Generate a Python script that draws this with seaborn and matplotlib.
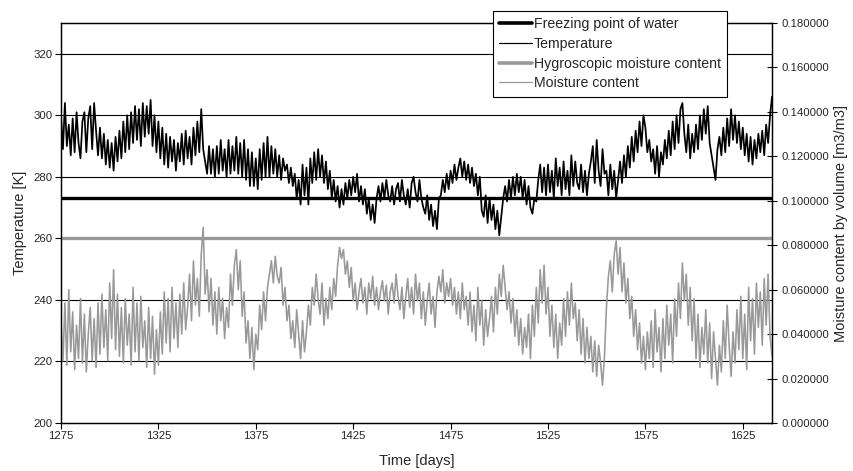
import numpy as np
import pandas as pd
import matplotlib
matplotlib.use('Agg')
import matplotlib.pyplot as plt
from matplotlib.ticker import FormatStrFormatter
import seaborn as sns

# temperatura diaria [K], dia 1275 em diante
temperature = [
    300, 289, 304, 290, 297, 287, 299, 288, 301, 291,
    286, 298, 301, 288, 299, 303, 289, 304, 295, 287,
    296, 286, 294, 284, 292, 283, 291, 282, 293, 285,
    295, 286, 298, 288, 300, 289, 301, 291, 303, 292,
    302, 290, 304, 293, 303, 294, 305, 290, 300, 288,
    298, 286, 296, 284, 294, 283, 293, 285, 292, 282,
    291, 285, 294, 284, 295, 286, 293, 284, 296, 287,
    298, 288, 302, 289, 285, 281, 290, 281, 289, 280,
    290, 281, 292, 282, 289, 280, 292, 281, 290, 282,
    293, 281, 291, 280, 292, 279, 289, 277, 288, 277,
    286, 276, 289, 279, 291, 280, 293, 280, 290, 281,
    289, 280, 287, 279, 286, 282, 284, 278, 283, 277,
    281, 273, 279, 271, 284, 274, 283, 271, 286, 278,
    288, 279, 289, 280, 287, 278, 285, 276, 282, 273,
    279, 272, 277, 270, 276, 271, 278, 273, 279, 274,
    280, 275, 281, 272, 277, 271, 276, 268, 273, 266,
    271, 265, 273, 277, 272, 278, 273, 279, 274, 272,
    277, 271, 276, 278, 272, 279, 274, 271, 276, 270,
    278, 280, 275, 272, 279, 273, 270, 268, 274, 266,
    271, 264, 269, 263, 273, 274, 279, 275, 281, 276,
    282, 278, 284, 279, 283, 286, 280, 285, 279, 284,
    278, 283, 277, 281, 274, 280, 269, 267, 274, 265,
    273, 266, 271, 263, 269, 261, 267, 273, 277, 272,
    279, 273, 280, 274, 281, 275, 280, 273, 279, 271,
    277, 270, 268, 273, 272, 279, 284, 275, 283, 274,
    284, 275, 282, 273, 286, 277, 283, 274, 285, 276,
    282, 274, 287, 277, 285, 278, 276, 284, 275, 282,
    274, 281, 285, 290, 278, 292, 282, 277, 289, 281,
    282, 274, 284, 276, 282, 273, 279, 285, 278, 287,
    280, 290, 283, 293, 285, 295, 288, 298, 290, 300,
    296, 288, 292, 285, 289, 281, 290, 280, 288, 284,
    292, 286, 295, 287, 298, 289, 300, 291, 302, 304,
    294, 288, 297, 286, 294, 288, 297, 289, 300, 292,
    302, 294, 303, 291, 287, 283, 279, 289, 293, 287,
    296, 288, 299, 290, 302, 292, 300, 291, 298, 289,
    296, 287, 294, 285, 293, 284, 292, 286, 294, 288,
    295, 287, 297, 291, 300, 306,
]

# umidade volumetrica [m3/m3]
moisture = [
    0.045, 0.028, 0.054, 0.026, 0.060, 0.032, 0.050, 0.024, 0.044, 0.029,
    0.056, 0.027, 0.049, 0.023, 0.040, 0.052, 0.028, 0.047, 0.025, 0.054,
    0.031, 0.058, 0.034, 0.051, 0.028, 0.063, 0.038, 0.069, 0.033, 0.058,
    0.030, 0.052, 0.027, 0.056, 0.035, 0.049, 0.026, 0.061, 0.032, 0.054,
    0.028, 0.057, 0.034, 0.046, 0.025, 0.052, 0.029, 0.048, 0.022, 0.042,
    0.026, 0.050, 0.031, 0.059, 0.036, 0.056, 0.032, 0.061, 0.038, 0.054,
    0.034, 0.058, 0.040, 0.063, 0.042, 0.052, 0.067, 0.046, 0.073, 0.053,
    0.065, 0.048, 0.076, 0.088, 0.058, 0.069, 0.050, 0.065, 0.044, 0.059,
    0.040, 0.061, 0.046, 0.056, 0.038, 0.052, 0.043, 0.067, 0.053, 0.071,
    0.078, 0.060, 0.073, 0.048, 0.059, 0.036, 0.046, 0.029, 0.043, 0.024,
    0.040, 0.033, 0.053, 0.042, 0.059, 0.046, 0.061, 0.067, 0.073, 0.063,
    0.075, 0.066, 0.063, 0.070, 0.053, 0.061, 0.046, 0.053, 0.038, 0.046,
    0.034, 0.051, 0.040, 0.029, 0.046, 0.032, 0.041, 0.053, 0.044, 0.061,
    0.053, 0.067, 0.056, 0.049, 0.063, 0.044, 0.056, 0.047, 0.061, 0.051,
    0.065, 0.057, 0.071, 0.079, 0.074, 0.078, 0.067, 0.073, 0.061, 0.070,
    0.055, 0.063, 0.051, 0.059, 0.065, 0.054, 0.061, 0.049, 0.063, 0.056,
    0.066, 0.053, 0.061, 0.051, 0.059, 0.064, 0.055, 0.062, 0.049, 0.059,
    0.063, 0.054, 0.067, 0.057, 0.051, 0.061, 0.047, 0.057, 0.065, 0.052,
    0.061, 0.049, 0.067, 0.055, 0.063, 0.047, 0.059, 0.044, 0.055, 0.063,
    0.049, 0.057, 0.043, 0.059, 0.066, 0.059, 0.069, 0.054, 0.063, 0.057,
    0.065, 0.053, 0.061, 0.049, 0.059, 0.047, 0.063, 0.051, 0.057, 0.044,
    0.059, 0.041, 0.053, 0.037, 0.061, 0.044, 0.055, 0.035, 0.051, 0.039,
    0.047, 0.057, 0.041, 0.061, 0.049, 0.067, 0.057, 0.071, 0.061, 0.051,
    0.059, 0.045, 0.056, 0.039, 0.051, 0.035, 0.047, 0.031, 0.043, 0.034,
    0.049, 0.029, 0.053, 0.039, 0.061, 0.045, 0.069, 0.054, 0.071, 0.049,
    0.061, 0.039, 0.053, 0.034, 0.049, 0.029, 0.045, 0.035, 0.056, 0.039,
    0.059, 0.044, 0.063, 0.047, 0.054, 0.037, 0.051, 0.031, 0.047, 0.027,
    0.043, 0.029, 0.039, 0.023, 0.037, 0.021, 0.035, 0.027, 0.017, 0.030,
    0.052, 0.066, 0.073, 0.059, 0.076, 0.082, 0.067, 0.079, 0.059, 0.072,
    0.054, 0.065, 0.047, 0.057, 0.039, 0.051, 0.033, 0.045, 0.027, 0.039,
    0.024, 0.041, 0.029, 0.046, 0.025, 0.051, 0.032, 0.043, 0.023, 0.047,
    0.029, 0.053, 0.035, 0.049, 0.027, 0.056, 0.039, 0.063, 0.047, 0.072,
    0.055, 0.067, 0.044, 0.061, 0.037, 0.056, 0.029, 0.049, 0.025, 0.043,
    0.031, 0.051, 0.027, 0.045, 0.020, 0.041, 0.029, 0.017, 0.035, 0.023,
    0.046, 0.029, 0.053, 0.035, 0.021, 0.041, 0.027, 0.051, 0.033, 0.057,
    0.029, 0.049, 0.024, 0.061, 0.037, 0.056, 0.031, 0.063, 0.043, 0.059,
    0.035, 0.065, 0.044, 0.067, 0.039, 0.030,
]

freezing_point = 273.15
hygroscopic = 0.0833
start_day = 1275
x_ticks = [1275, 1325, 1375, 1425, 1475, 1525, 1575, 1625]
temp_ticks = [200, 220, 240, 260, 280, 300, 320]
moist_ticks = [0.0, 0.02, 0.04, 0.06, 0.08, 0.10, 0.12, 0.14, 0.16, 0.18]

ds_t = pd.DataFrame({'day': np.arange(start_day, start_day + len(temperature)), 'temp': temperature})
ds_m = pd.DataFrame({'day': np.arange(start_day, start_day + len(moisture)), 'moist': moisture})

sns.set_style('white')
plt.rcParams['font.family'] = ['Liberation Sans', 'DejaVu Sans']

fig = plt.figure(figsize=(8.54, 4.71), dpi=100)
ax = fig.add_axes([61 / 854, 1 - 423 / 471, (772 - 61) / 854, 400 / 471])
ax2 = ax.twinx()

grey = '#999999'

# grade horizontal
for t in temp_ticks[1:]:
    ax.axhline(t, color='black', lw=0.8, zorder=0)

ax.axhline(freezing_point, color='black', lw=2.4, zorder=2)
sns.lineplot(data=ds_t, x='day', y='temp', ax=ax, color='black', lw=1.25, zorder=3)
ax2.axhline(hygroscopic, color=grey, lw=2.4)
sns.lineplot(data=ds_m, x='day', y='moist', ax=ax2, color=grey, lw=1.15)

ax.set_xlim(1275, 1640)
ax.set_ylim(200, 330)
ax2.set_ylim(0, 0.18)
ax.set_xticks(x_ticks)
ax.set_yticks(temp_ticks)
ax2.set_yticks(moist_ticks)
ax2.yaxis.set_major_formatter(FormatStrFormatter('%.6f'))

for a in (ax, ax2):
    for s in a.spines.values():
        s.set_color('black')
        s.set_linewidth(0.9)
ax.tick_params(axis='both', direction='out', length=4, width=0.8, labelsize=8.2, color='black', pad=2,
               left=True, bottom=True)
ax2.tick_params(axis='y', direction='inout', length=7, width=0.8, labelsize=8.2, color='black', pad=3,
                right=True)

ax.set_xlabel('Time [days]', fontsize=10.5, labelpad=9)
ax.set_ylabel('Temperature [K]', fontsize=10.5, labelpad=5)
ax2.set_ylabel('Moisture content by volume [m3/m3]', fontsize=10.5, labelpad=4)

handles = [
    plt.Line2D([], [], color='black', lw=2.6),
    plt.Line2D([], [], color='black', lw=0.9),
    plt.Line2D([], [], color=grey, lw=2.6),
    plt.Line2D([], [], color=grey, lw=0.9),
]
labels = ['Freezing point of water', 'Temperature', 'Hygroscopic moisture content', 'Moisture content']
leg = fig.legend(handles, labels, loc='upper left', bbox_to_anchor=(493 / 854, 1 - 11 / 471),
                 frameon=True, fancybox=False, shadow=False, fontsize=10.2, borderpad=0.45,
                 handlelength=2.3, handletextpad=0.15, labelspacing=0.4, borderaxespad=0)
leg.get_frame().set_edgecolor('black')
leg.get_frame().set_linewidth(0.8)
leg.get_frame().set_facecolor('white')
leg.get_frame().set_alpha(1)

fig.savefig('out.png', dpi=100)
